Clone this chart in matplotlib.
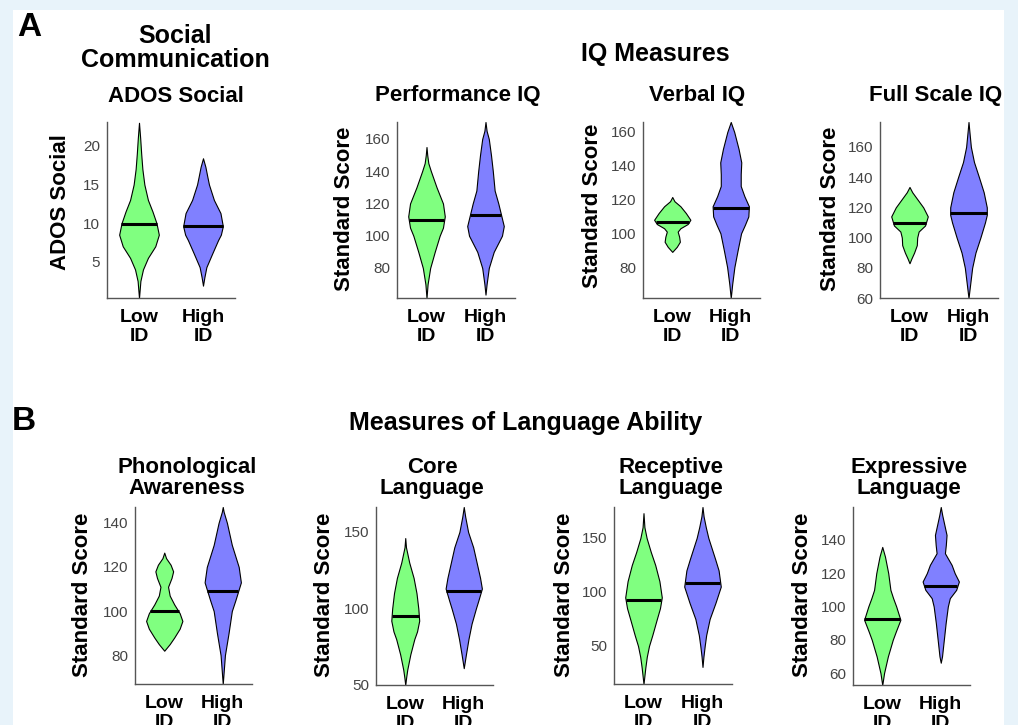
import numpy as np
import matplotlib
matplotlib.use("Agg")
import matplotlib.pyplot as plt
from matplotlib.patches import Rectangle

plt.rcParams['font.family'] = ['Liberation Sans', 'DejaVu Sans']

# ===== data: violin outlines (y knot, relative half-width) =====
groups = ["Low\nID", "High\nID"]

# ADOS Social
ados_y_low = [23.0, 21, 19, 17, 15, 13, 11.5, 10, 8.5, 7, 5.5, 4, 2.5, 0.3]
ados_w_low = [0, .06, .11, .17, .27, .45, .68, .88, 1.0, .82, .45, .2, .07, 0]
ados_y_high = [18.4, 17.3, 16, 15, 13, 11.3, 9.6, 8.5, 7.8, 6.1, 4.3, 3, 1.9]
ados_w_high = [0, .12, .22, .3, .55, .88, 1.0, .9, .76, .47, .17, .07, 0]
ados_med = [9.9, 9.6]

# Performance IQ
piq_y_low = [155, 150, 145, 140, 130, 120, 112, 105, 100, 90, 80, 70, 61.4]
piq_w_low = [0, .04, .1, .24, .55, .9, 1.0, .9, .72, .45, .2, .06, 0]
piq_y_high = [170.5, 165, 160, 150, 140, 128, 120, 113, 106, 100, 90, 80, 70, 63.5]
piq_w_high = [0, .06, .18, .3, .4, .5, .7, .85, 1.0, .9, .45, .18, .06, 0]
piq_med = [109.8, 113]

# Verbal IQ
viq_y_low = [121.5, 119, 116, 112, 108, 105.5, 103, 101, 98, 95, 92, 89]
viq_w_low = [0, .12, .45, .75, 1.0, .85, .45, .3, .38, .42, .25, 0]
viq_y_high = [165.9, 160, 150, 142, 135, 128, 122, 116, 110, 105, 100, 90, 80, 70, 61.7]
viq_w_high = [0, .19, .43, .58, .55, .55, .75, 1.0, .97, .78, .57, .38, .2, .08, 0]
viq_med = [106.7, 115]

# Full Scale IQ
fsiq_y_low = [133.5, 130, 125, 120, 114, 108, 104, 100, 95, 90, 86, 83]
fsiq_w_low = [0, .15, .45, .75, 1.0, .85, .5, .42, .4, .25, .1, 0]
fsiq_y_high = [176.5, 170, 160, 150, 140, 130, 120, 115, 110, 100, 90, 80, 70, 60]
fsiq_w_high = [0, .05, .13, .3, .57, .83, 1.0, 1.0, .9, .65, .38, .2, .1, 0]
fsiq_med = [109.7, 116.3]

# Phonological Awareness
pa_y_low = [126.5, 124, 121, 118, 115, 111, 107, 103, 99, 95.5, 92, 88, 85, 82]
pa_w_low = [0, .1, .35, .49, .4, .21, .3, .55, .85, 1.0, .85, .55, .3, 0]
pa_y_high = [147.2, 145, 140, 130, 120, 113, 105, 100, 90, 80, 66.9]
pa_w_high = [0, .05, .23, .5, .88, 1.0, .7, .5, .32, .12, 0]
pa_med = [99.8, 109.3]

# Core Language
cl_y_low = [146, 140, 130, 120, 110, 100, 92, 85, 80, 70, 60, 55, 50]
cl_w_low = [0, .04, .22, .46, .62, .72, .77, .65, .5, .28, .11, .05, 0]
cl_y_high = [166.3, 160, 150, 140, 130, 120, 113, 105, 100, 90, 80, 70, 61]
cl_w_high = [0, .08, .24, .52, .71, .9, 1.0, .8, .67, .43, .26, .12, 0]
cl_med = [94.8, 111.4]

# Receptive Language
rl_y_low = [173, 160, 150, 137, 125, 110, 95, 85, 75, 60, 50, 40, 30, 14.8]
rl_w_low = [0, .05, .17, .4, .64, .87, 1.0, .9, .73, .48, .3, .18, .1, 0]
rl_y_high = [178.7, 170, 160, 150, 130, 120, 105, 90, 75, 60, 50, 40, 30.6]
rl_w_high = [0, .06, .18, .32, .7, .88, 1.0, .71, .39, .2, .12, .05, 0]
rl_med = [92.6, 108.3]

# Expressive Language
el_y_low = [135.8, 130, 120, 110, 105, 100, 92, 85, 80, 70, 60, 52.8]
el_w_low = [0, .15, .33, .45, .6, .77, 1.0, .75, .58, .31, .1, 0]
el_y_high = [159.8, 155, 150, 143, 137, 132, 125, 120, 115, 110, 105, 100, 90, 80, 70, 66.2]
el_w_high = [0, .08, .18, .32, .28, .23, .6, .77, 1.0, .85, .5, .39, .27, .17, .07, 0]
el_med = [92.6, 112.4]

titles = ["ADOS Social", "Performance IQ", "Verbal IQ", "Full Scale IQ",
          "Phonological\nAwareness", "Core\nLanguage", "Receptive\nLanguage", "Expressive\nLanguage"]
ylabels = ["ADOS Social"] + ["Standard Score"] * 7
yticks = [[5, 10, 15, 20], [80, 100, 120, 140, 160], [80, 100, 120, 140, 160],
          [60, 80, 100, 120, 140, 160], [80, 100, 120, 140], [50, 100, 150],
          [50, 100, 150], [60, 80, 100, 120, 140]]
ylims = [(0.3, 23.1), (61.4, 170.5), (61.7, 165.9), (60, 176.5),
         (66.9, 147.2), (50, 166.3), (14.8, 178.7), (52.8, 159.8)]

violins = [
    (ados_y_low, ados_w_low, ados_y_high, ados_w_high, ados_med),
    (piq_y_low, piq_w_low, piq_y_high, piq_w_high, piq_med),
    (viq_y_low, viq_w_low, viq_y_high, viq_w_high, viq_med),
    (fsiq_y_low, fsiq_w_low, fsiq_y_high, fsiq_w_high, fsiq_med),
    (pa_y_low, pa_w_low, pa_y_high, pa_w_high, pa_med),
    (cl_y_low, cl_w_low, cl_y_high, cl_w_high, cl_med),
    (rl_y_low, rl_w_low, rl_y_high, rl_w_high, rl_med),
    (el_y_low, el_w_low, el_y_high, el_w_high, el_med),
]

# ===== layout (pixel boxes of the plotting areas) =====
W, H = 1018, 725
boxes = [(107, 122, 235, 298), (397, 122, 515, 298), (643, 122, 760, 298), (880, 122, 998, 298),
         (135, 507, 252, 684), (376, 507, 493, 685), (614, 507, 732, 684), (853, 507, 970, 685)]
title_pos = [(176, 96), (458, 96), (697, 96), (936, 96),
             (187, 478), (432, 478), (671, 478), (909, 478)]
ylab_pos = [(60, 202), (345, 209), (592, 206), (830, 209),
            (82, 595), (325, 595), (565, 595), (803, 595)]

fx = lambda x: x / W
fy = lambda y: 1 - y / H

colors = ["#80FF80", "#8080FF"]
HALF_W = 0.31

fig = plt.figure(figsize=(W / 100, H / 100), dpi=100, facecolor="#E8F3FA")
fig.add_artist(Rectangle((fx(13), 0), fx(1004) - fx(13), fy(10), transform=fig.transFigure,
                         facecolor="white", edgecolor="none", zorder=0))

for i, (yl, wl, yh, wh, med) in enumerate(violins):
    l, t, r, b = boxes[i]
    ax = fig.add_axes([fx(l), fy(b), fx(r) - fx(l), fy(t) - fy(b)])
    ax.patch.set_alpha(0)
    for j, (ys, ws) in enumerate([(yl, wl), (yh, wh)]):
        c = j + 1
        ys = np.array(ys)
        ws = np.array(ws) * HALF_W
        ax.fill_betweenx(ys, c - ws, c + ws, facecolor=colors[j], edgecolor="black",
                         linewidth=0.8, zorder=2)
        mw = np.interp(med[j], ys[::-1], ws[::-1])
        ax.plot([c - mw, c + mw], [med[j], med[j]], color="black", lw=2.2,
                solid_capstyle="butt", zorder=3)
    ax.set_xlim(0.5, 2.5)
    ax.set_ylim(*ylims[i])
    ax.set_yticks(yticks[i])
    ax.set_xticks([1, 2])
    ax.set_xticklabels(groups, fontsize=14, fontweight="bold", linespacing=1.12)
    ax.tick_params(axis="both", length=0)
    ax.tick_params(axis="y", labelsize=11, labelcolor="#444444", pad=5)
    ax.tick_params(axis="x", pad=8)
    for s in ["top", "right"]:
        ax.spines[s].set_visible(False)
    for s in ["left", "bottom"]:
        ax.spines[s].set_color("#555555")
        ax.spines[s].set_linewidth(1.0)

    tx, ty = title_pos[i]
    fig.text(fx(tx), fy(ty), titles[i], ha="center", va="center", fontsize=16,
             fontweight="bold", linespacing=1.05)
    lx, ly = ylab_pos[i]
    fig.text(fx(lx), fy(ly), ylabels[i], ha="center", va="center", rotation=90,
             fontsize=16, fontweight="bold")

# section headers
fig.text(fx(17), fy(36), "A", fontsize=24, fontweight="bold", va="baseline")
fig.text(fx(12), fy(430), "B", fontsize=24, fontweight="bold", va="baseline")
fig.text(fx(175), fy(48), "Social\nCommunication", ha="center", va="center",
         fontsize=18, fontweight="bold", linespacing=1.02)
fig.text(fx(655), fy(54), "IQ Measures", ha="center", va="center", fontsize=18, fontweight="bold")
fig.text(fx(526), fy(423), "Measures of Language Ability", ha="center", va="center",
         fontsize=18, fontweight="bold")

fig.savefig("out.png", dpi=100, facecolor=fig.get_facecolor())
